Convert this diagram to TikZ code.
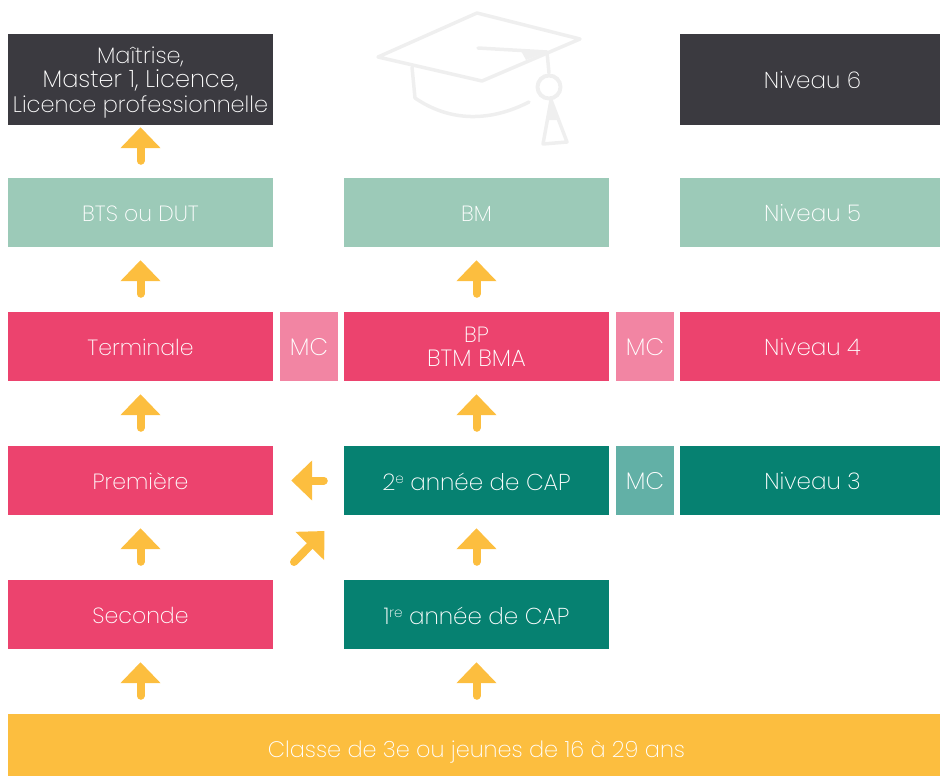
\documentclass[tikz,border=0pt]{standalone}
\usepackage{fontspec}
\setmainfont{Poppins}[UprightFont=* ExtraLight]
\usetikzlibrary{arrows.meta}
\definecolor{dark}{HTML}{3B3A40}
\definecolor{mint}{HTML}{9CCAB8}
\definecolor{rose}{HTML}{EC436E}
\definecolor{rosel}{HTML}{F285A3}
\definecolor{teal}{HTML}{068171}
\definecolor{teall}{HTML}{62B0A6}
\definecolor{gold}{HTML}{FCBE3F}
\definecolor{hat}{HTML}{EFEFEF}
\newcommand{\low}[2][1pt]{\raisebox{-#1}[\height][\depth]{#2}}
\newcommand{\shifted}[1]{\hspace*{5pt}\low{#1}}
\newcommand{\supr}[1]{\raisebox{7pt}{\fontsize{13.5}{14}\selectfont #1}}
\tikzset{
  box/.style={draw=none,inner sep=0pt,align=center,text=white,font=\fontsize{22}{24.5}\selectfont},
  larger/.style={font=\fontsize{23}{24.5}\selectfont},
  largest/.style={font=\fontsize{24}{24.5}\selectfont},
  slight/.style={font=\fontsize{22.4}{24.5}\selectfont},
  wide/.style={box,minimum width=265pt,minimum height=69pt},
  mcbox/.style={box,largest,minimum width=58pt,minimum height=69pt},
  arr/.style={draw=gold,line width=8pt,line cap=round,-{Triangle[length=21pt,width=39pt,sharp]}},
  up/.style={arr,xshift=-0.5pt,shorten <=18pt,shorten >=13pt},
  hatl/.style={draw=hat,line width=3.5pt,line join=round,line cap=round}
}
\begin{document}
\begin{tikzpicture}[x=1pt,y=-1pt]
\useasboundingbox (0,0) rectangle (940,776);
% graduation cap
\draw[hatl] (378,57) -- (477,13) -- (580,39) -- (482,81) -- cycle;
\draw[hatl] (412,67) -- (415,98) .. controls (450,122) and (490,122) .. (529,102);
\draw[hatl] (478,48) -- (547,52) -- (549,73);
\fill[hat] (520,49) -- (547,52) -- (526,60) -- cycle;
\draw[hatl,line width=4pt] (549,87) circle (11.5);
\draw[hatl] (551,100) -- (567,142) -- (543,144) -- cycle;
\fill[hat] (551,100) -- (557,120) -- (546,120) -- cycle;
% boxes
\node[box,slight,fill=dark,minimum width=265pt,minimum height=91pt] (maitrise) at (140.5,79.5) {\low[3pt]{Maîtrise,}\\\low[3pt]{\fontsize{24}{24.5}\selectfont Master 1, Licence,}\\\low[3pt]{Licence professionnelle}};
\node[box,larger,fill=dark,minimum width=260pt,minimum height=91pt] (n6) at (810,79.5) {\shifted{Niveau 6}};
\node[wide,fill=mint] (bts) at (140.5,212.5) {\low{BTS ou DUT}};
\node[wide,fill=mint] (bm) at (476.5,212.5) {\low{BM}};
\node[wide,larger,fill=mint,minimum width=260pt] (n5) at (810,212.5) {\shifted{Niveau 5}};
\node[wide,fill=rose] (term) at (140.5,346.5) {\low{Terminale}};
\node[mcbox,fill=rosel] (mca) at (309,346.5) {\low{MC}};
\node[wide,fill=rose] (bp) at (476.5,346.5) {\low{BP}\\\low[0pt]{\fontsize{23.5}{24.5}\selectfont BTM BMA}};
\node[mcbox,fill=rosel] (mcb) at (645,346.5) {\low{MC}};
\node[wide,larger,fill=rose,minimum width=260pt] (n4) at (810,346.5) {\shifted{Niveau 4}};
\node[wide,fill=rose] (prem) at (140.5,480.5) {\low{Première}};
\node[wide,larger,fill=teal] (cap2) at (476.5,480.5) {\low{2\supr{e} année de CAP}};
\node[mcbox,fill=teall] (mcc) at (645,480.5) {\low{MC}};
\node[wide,larger,fill=teal,minimum width=260pt] (n3) at (810,480.5) {\shifted{Niveau 3}};
\node[wide,fill=rose] (sec) at (140.5,614.5) {\low{Seconde}};
\node[wide,larger,fill=teal] (cap1) at (476.5,614.5) {\low{1\supr{re} année de CAP}};
\node[box,slight,fill=gold,minimum width=932pt,minimum height=62pt] (classe) at (474,745) {\hspace*{5pt}\low[7pt]{Classe de 3e ou jeunes de 16 à 29 ans}};
% connectors
\coordinate (ca) at (classe.north -| sec);
\coordinate (cb) at (classe.north -| cap1);
\draw[up] (ca) -- (sec.south);
\draw[up] (cb) -- (cap1.south);
\draw[up] (sec.north) -- (prem.south);
\draw[up] (cap1.north) -- (cap2.south);
\draw[up] (prem.north) -- (term.south);
\draw[up] (cap2.north) -- (bp.south);
\draw[up] (term.north) -- (bts.south);
\draw[up] (bp.north) -- (bm.south);
\draw[arr,xshift=-0.5pt,shorten <=17pt,shorten >=2pt] (bts.north) -- (maitrise.south);
\draw[arr,shorten <=20pt,shorten >=18pt] (cap2.west) -- (prem.east);
\coordinate (dtail) at (294,562);
\coordinate (dtip) at (324.5,531);
\draw[arr] (dtail) -- (dtip);
\end{tikzpicture}
\end{document}
